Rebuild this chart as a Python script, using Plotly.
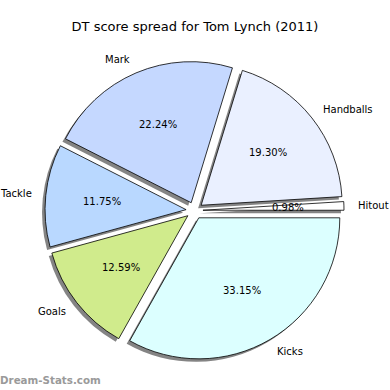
import math
import plotly.graph_objects as go

labels = ["Hitout", "Handballs", "Mark", "Tackle", "Goals", "Kicks"]
values = [0.98, 19.30, 22.24, 11.75, 12.59, 33.15]
colors = ["#ffffff", "#eaf0ff", "#c5d8ff", "#b9d8ff", "#d0eb8c", "#dcffff"]
title = "DT score spread for Tom Lynch (2011)"
watermark = "Dream-Stats.com"

W = H = 390
ML, MR, MT, MB = 42, 46, 61, 27
PW = W - ML - MR
PH = H - MT - MB
SH = 3  # shadow offset px
PULL = 0.06

total = sum(values)
# plotly (counterclockwise) puts the end of the first slice at `rotation`;
# make the first slice start at 3 o'clock like the reference
ROT = 90 - 360 * values[0] / total

main_dom_x = [SH / PW, 1]
main_dom_y = [SH / PH, 1]
shadow_dom_x = [0, 1 - SH / PW]
shadow_dom_y = [0, 1 - SH / PH]

fig = go.Figure()
fig.add_trace(go.Pie(
    labels=labels, values=values, sort=False, direction="counterclockwise",
    rotation=ROT, pull=[PULL] * len(values),
    marker=dict(colors=["rgba(50,50,50,0.6)"] * len(values), line=dict(width=0)),
    textinfo="none", hoverinfo="skip", showlegend=False,
    domain=dict(x=shadow_dom_x, y=shadow_dom_y),
))
fig.add_trace(go.Pie(
    labels=labels, values=values, sort=False, direction="counterclockwise",
    rotation=ROT, pull=[PULL] * len(values),
    marker=dict(colors=colors, line=dict(color="black", width=0.8)),
    textinfo="none", showlegend=False,
    domain=dict(x=main_dom_x, y=main_dom_y),
))

# text positions in the matplotlib style, derived from the values
cx = (main_dom_x[0] + main_dom_x[1]) / 2
cy = (main_dom_y[0] + main_dom_y[1]) / 2
r_px = min(PW * (main_dom_x[1] - main_dom_x[0]), PH * (main_dom_y[1] - main_dom_y[0])) / 2 / (1 + PULL)
start = 0.0
annotations = []
for lab, v in zip(labels, values):
    th = math.radians(360 * (start + v / 2) / total)
    start += v
    ox = PULL * r_px * math.cos(th)
    oy = PULL * r_px * math.sin(th)
    lx = ox + 1.1 * r_px * math.cos(th)
    ly = oy + 1.1 * r_px * math.sin(th)
    annotations.append(dict(
        x=cx + lx / PW, y=cy + ly / PH, xref="paper", yref="paper",
        text=lab, showarrow=False, xanchor="left" if lx > 0 else "right",
        yanchor="middle", borderpad=0, borderwidth=0,
        font=dict(size=10, color="black", family="DejaVu Sans"),
    ))
    px_ = ox + 0.6 * r_px * math.cos(th)
    py_ = oy + 0.6 * r_px * math.sin(th)
    annotations.append(dict(
        x=cx + px_ / PW, y=cy + py_ / PH, xref="paper", yref="paper",
        text=f"{v:.2f}%", showarrow=False, xanchor="center", yanchor="middle",
        borderpad=0, borderwidth=0,
        font=dict(size=10, color="black", family="DejaVu Sans"),
    ))

annotations.append(dict(
    x=-ML / PW, y=-(380 - (H - MB)) / PH, xref="paper", yref="paper", text=watermark,
    showarrow=False, xanchor="left", yanchor="middle", borderpad=0, borderwidth=0,
    font=dict(size=10.3, color="#9a9a9a", family="DejaVu Sans", weight="bold"),
))

fig.update_layout(
    width=W, height=H,
    margin=dict(l=ML, r=MR, t=MT, b=MB),
    paper_bgcolor="white", plot_bgcolor="white",
    title=dict(text=title, x=0.5, xref="container", xanchor="center",
               y=1 - 26 / H, yref="container", yanchor="middle",
               font=dict(size=13, color="black", family="DejaVu Sans")),
    annotations=annotations,
)
fig.write_html("out.html")
